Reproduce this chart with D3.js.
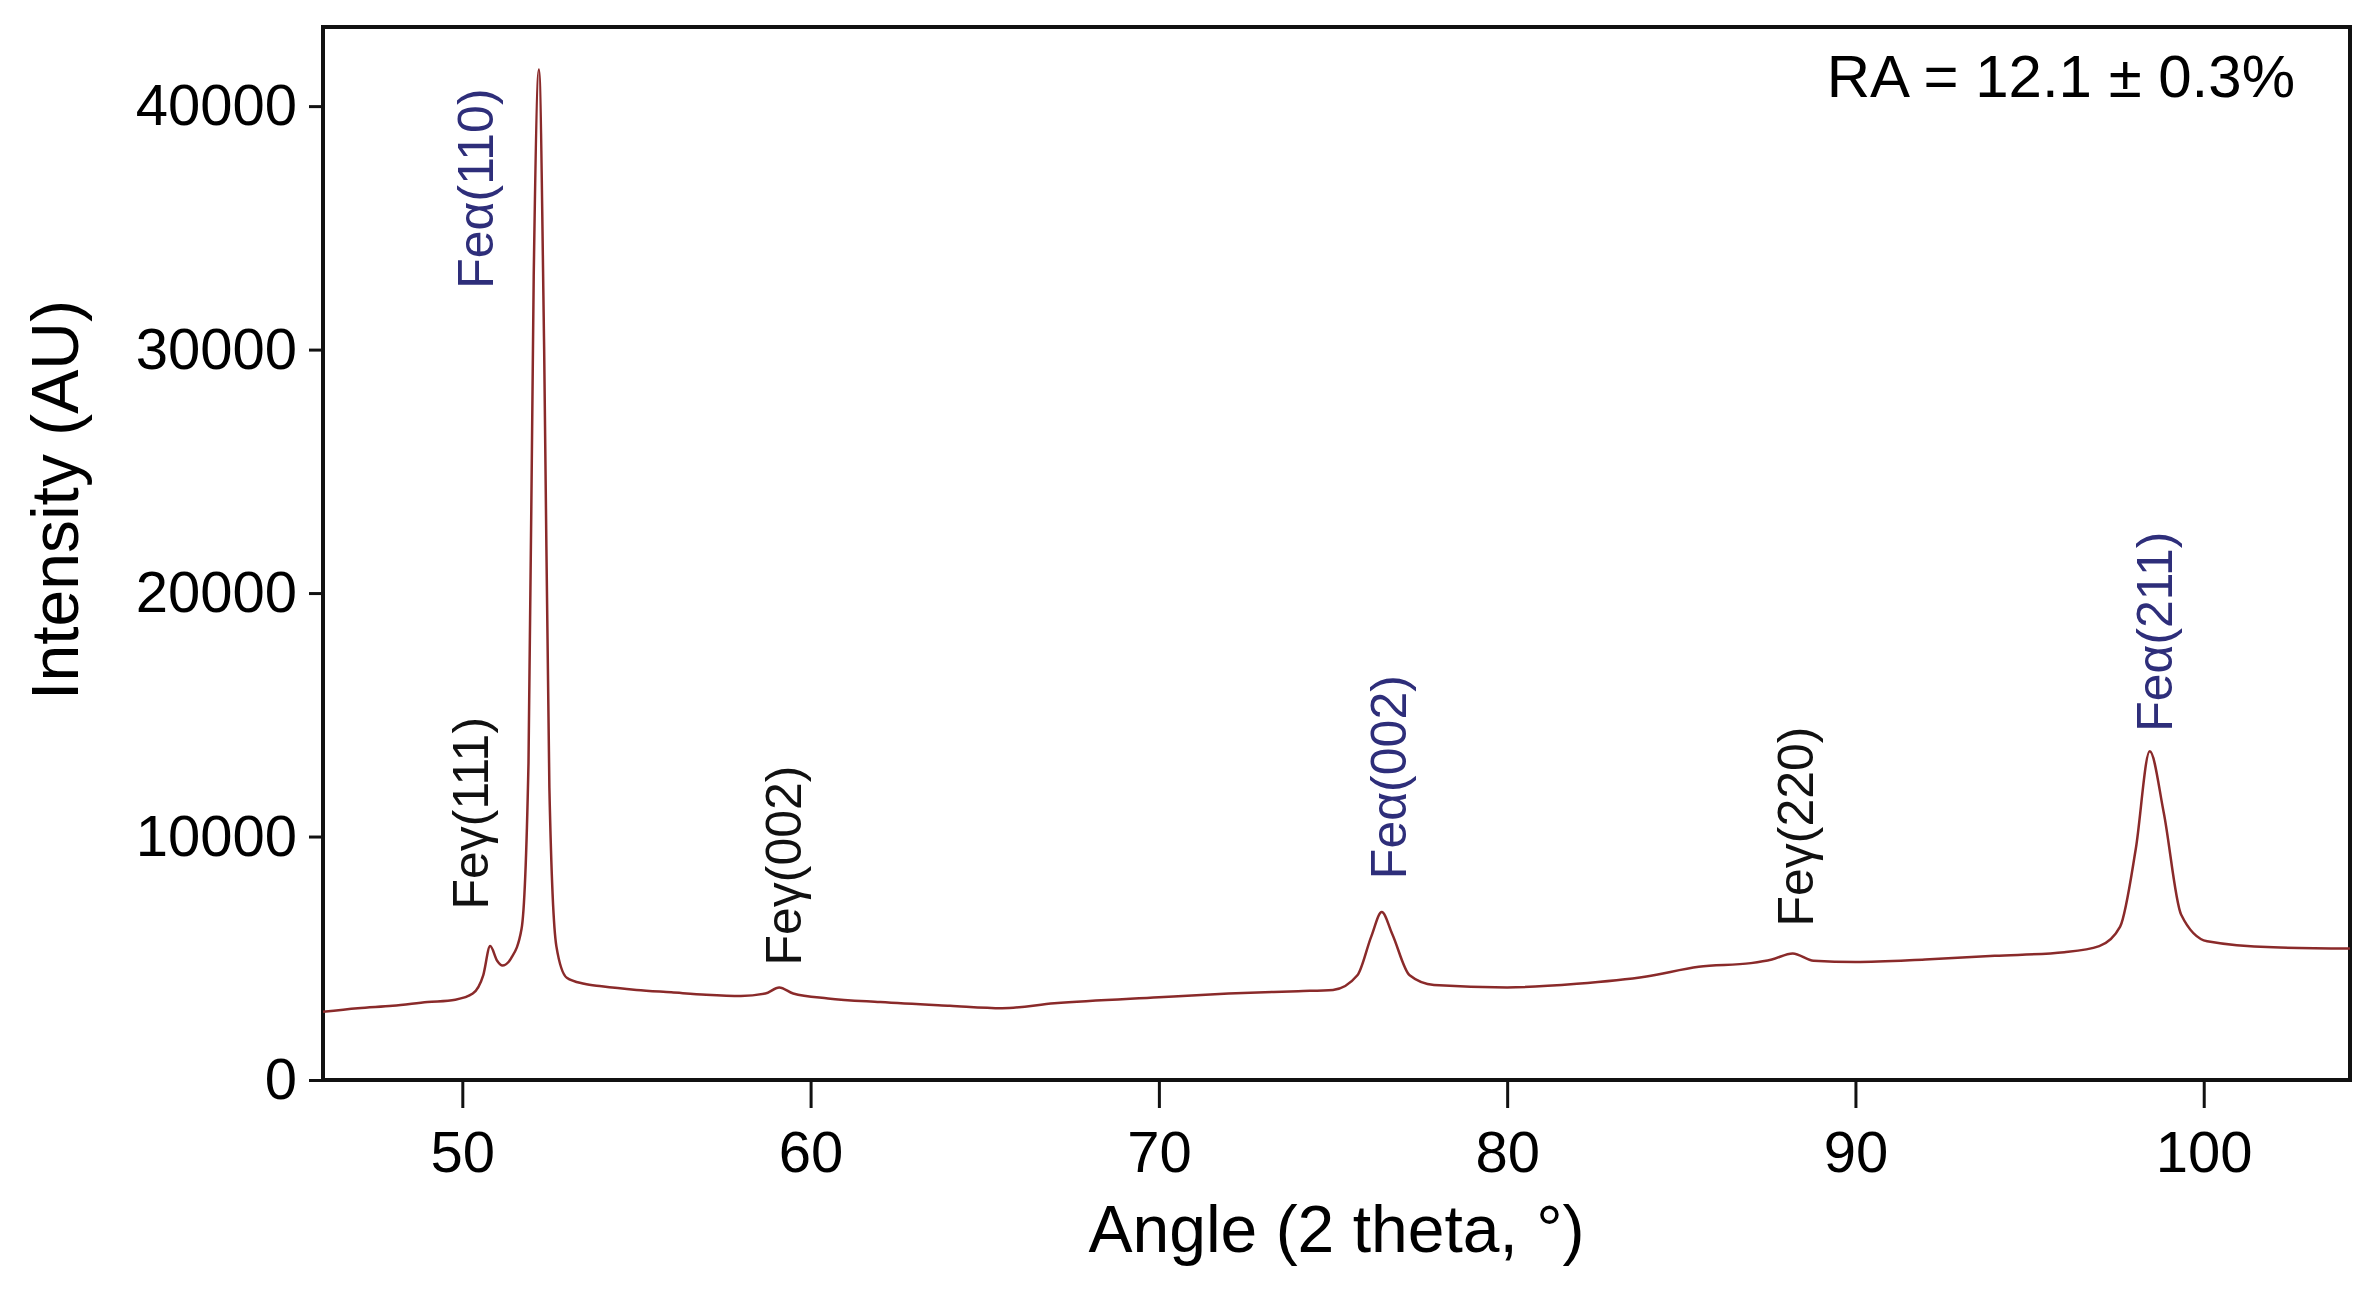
<!DOCTYPE html>
<html><head><meta charset="utf-8">
<script src="https://cdn.jsdelivr.net/npm/d3@7"></script>
<style>body{margin:0;background:#fff}text{font-family:"Liberation Sans",Arial,sans-serif}</style>
</head><body><svg id="c" width="2371" height="1291"></svg>
<script>
const angles = [46,47,48,49,49.8,50.3,50.6,50.8,51.0,51.15,51.4,51.7,51.9,52.05,52.2,52.35,52.5,52.7,53.0,53.5,54,55,56,57,58,58.7,59.1,59.5,60.5,62,64,65.5,67,70,72,74,75.0,75.7,76.1,76.4,76.7,77.2,77.9,80,82,84,85.5,87,87.6,88.2,88.8,90.0,92,94,96,97.0,97.6,98.05,98.45,98.85,99.35,100.1,102,104.2];
const intensity = [2800,2950,3050,3200,3300,3550,4300,5500,4900,4700,5000,6200,13000,33000,41500,30000,12000,5500,4200,3950,3850,3700,3600,3500,3450,3550,3800,3550,3350,3200,3050,2950,3150,3400,3550,3650,3700,4300,5900,6900,6000,4300,3900,3800,3950,4250,4650,4800,4950,5200,4900,4850,4950,5100,5250,5500,6300,9500,13500,11000,6800,5700,5450,5400];
const annotations = [
  {label:"Fe\u03b3(111)", x:50.25, y:7000, c:"#111"},
  {label:"Fe\u03b1(110)", x:50.4, y:32500, c:"#2e2e7a"},
  {label:"Fe\u03b3(002)", x:59.25, y:4700, c:"#111"},
  {label:"Fe\u03b1(002)", x:76.6, y:8250, c:"#2e2e7a"},
  {label:"Fe\u03b3(220)", x:88.3, y:6300, c:"#111"},
  {label:"Fe\u03b1(211)", x:98.6, y:14300, c:"#2e2e7a"}
];
const xTicks = [50,60,70,80,90,100];
const yTicks = [0,10000,20000,30000,40000];

const svg = d3.select("#c");
const L=323,R=2350,T=27,B=1080;
const x = d3.scaleLinear().domain([46,104.2]).range([L,R]);
const y = d3.scaleLinear().domain([0,43250]).range([B,T]);

svg.append("rect").attr("x",L).attr("y",T).attr("width",R-L).attr("height",B-T).attr("fill","none").attr("stroke","#111").attr("stroke-width",4);

const gx = svg.append("g").attr("transform",`translate(0,${B})`);
gx.call(d3.axisBottom(x).tickValues(d3.range(47,105,1)).tickSize(10).tickFormat(""));
gx.call(d3.axisBottom(x).tickValues(xTicks).tickSize(28).tickFormat(d3.format("d")));
gx.selectAll(".domain").remove();
gx.selectAll("line").attr("stroke","#111").attr("stroke-width",3);
gx.selectAll("text").attr("font-size",58).attr("fill","#000").attr("dy","1.05em");

const gy = svg.append("g").attr("transform",`translate(${L},0)`);
gy.call(d3.axisLeft(y).tickValues(yTicks).tickSize(14).tickPadding(12).tickFormat(d3.format("d")));
gy.selectAll(".domain").remove();
gy.selectAll("line").attr("stroke","#111").attr("stroke-width",3);
gy.selectAll("text").attr("font-size",58).attr("fill","#000");

const data = angles.map((a,i)=>[a,intensity[i]]);
svg.append("path").datum(data).attr("fill","none").attr("stroke","#8a2a2a").attr("stroke-width",2.5)
  .attr("d",d3.line().x(d=>x(d[0])).y(d=>y(d[1])).curve(d3.curveMonotoneX));

svg.selectAll(".ann").data(annotations).join("text")
  .attr("transform",d=>`translate(${x(d.x)},${y(d.y)}) rotate(-90)`)
  .attr("dominant-baseline","central").attr("font-size",50).attr("fill",d=>d.c).text(d=>d.label);

svg.append("text").attr("x",2295).attr("y",97).attr("text-anchor","end").attr("font-size",60).text("RA = 12.1 \u00b1 0.3%");
svg.append("text").attr("x",(L+R)/2).attr("y",1252).attr("text-anchor","middle").attr("font-size",66).text("Angle (2 theta, \u00b0)");
svg.append("text").attr("transform","translate(78,500) rotate(-90)").attr("text-anchor","middle").attr("font-size",66).text("Intensity (AU)");
</script></body></html>
